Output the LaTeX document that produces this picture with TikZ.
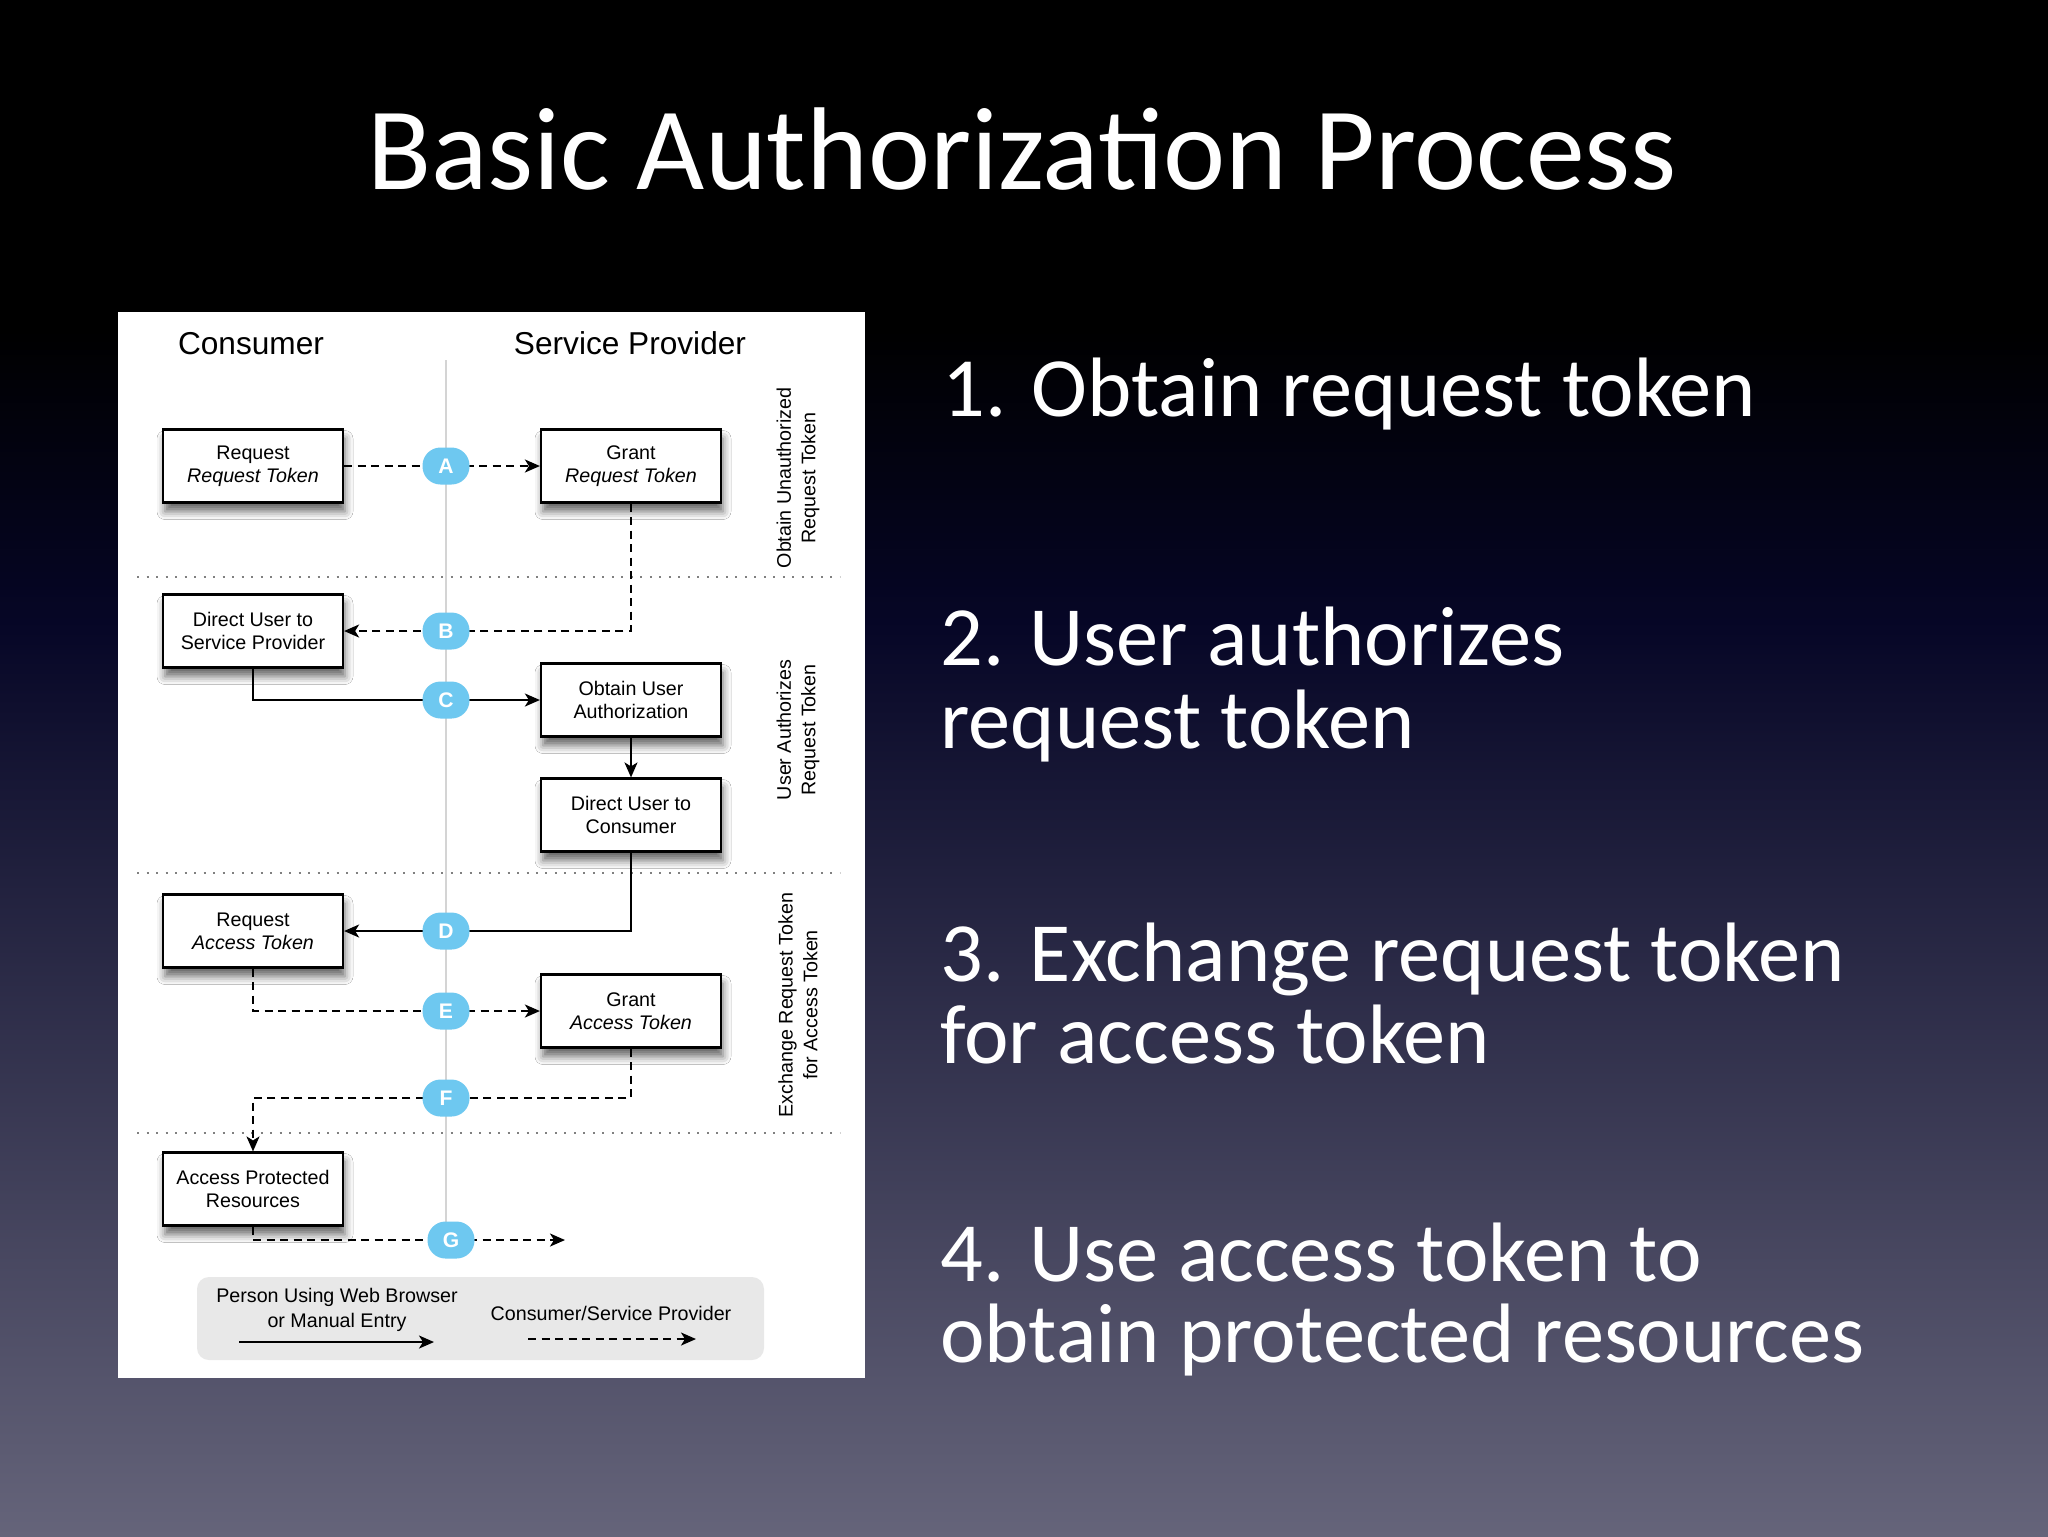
\documentclass[tikz,border=0pt]{standalone}
\usepackage{fontspec}
\setmainfont{Liberation Sans}
\newfontfamily\slidefont{Carlito}
\usetikzlibrary{arrows.meta,shadows.blur}

\definecolor{badgeblue}{RGB}{110,200,240}
\definecolor{slidebottom}{RGB}{101,100,122}
\definecolor{slidenavy}{RGB}{6,6,38}
\definecolor{legendgray}{RGB}{232,232,232}
\definecolor{lanegray}{RGB}{212,212,212}

\begin{document}
\begin{tikzpicture}[x=0.1mm,y=-0.1mm,
  >={Stealth[length=1.5mm,width=1.3mm,inset=0.4mm]},
  flowbox/.style={draw=black,line width=0.22mm,fill=white,minimum width=18mm,
    minimum height=7.3mm,inner sep=0pt,align=center,font=\fontsize{5.6}{6.6}\selectfont,
    blur shadow={shadow xshift=0.2mm,shadow yshift=-0.9mm,shadow blur radius=0.8mm,shadow opacity=60}},
  badge/.style={fill=badgeblue,rounded corners=1.8mm,minimum width=4.7mm,minimum height=3.7mm,
    inner sep=0pt,text=white,font=\fontsize{6}{6}\selectfont\bfseries},
  flow/.style={line width=0.2mm,->},
  dflow/.style={flow,dash pattern=on 0.8mm off 0.55mm},
  sepline/.style={line width=0.25mm,gray,dash pattern=on 0.2mm off 0.75mm},
  small/.style={font=\fontsize{5.6}{7}\selectfont},
  slide/.style={anchor=base west,text=white,font=\slidefont\fontsize{24}{24}\selectfont},
]
\useasboundingbox (0,0) rectangle (2048,1536);

% slide background
\fill[black] (0,0) rectangle (2048,1536);
\shade[top color=black,bottom color=slidenavy] (0,330) rectangle (2048,621);
\shade[top color=slidenavy,bottom color=slidebottom] (0,620) rectangle (2048,1536);

\node[anchor=base,text=white,font=\slidefont\fontsize{33.5}{34}\selectfont] (title) at (1022,189) {Basic Authorization Process};

% the diagram
\fill[white] (118,312) rectangle (865,1378);

\node[anchor=base,font=\fontsize{9}{10}\selectfont] (consumer) at (251,354) {Consumer};
\node[anchor=base,font=\fontsize{9}{10}\selectfont] (provider) at (630,354) {Service Provider};

\coordinate (laneTop) at (446,360);
\coordinate (laneBot) at (446,1222);
\draw[lanegray,line width=0.2mm] (laneTop) -- (laneBot);

\foreach \yy in {577,873,1133}
  \draw[sepline] (137,\yy) -- (840,\yy);

\node[flowbox] (reqRT) at (253,466) {Request\\\textit{Request Token}};
\node[flowbox] (grantRT) at (631,466) {Grant\\\textit{Request Token}};
\node[flowbox] (dirSP) at (253,631) {Direct User to\\Service Provider};
\node[flowbox] (obtAuth) at (631,700) {Obtain User\\Authorization};
\node[flowbox] (dirCons) at (631,815) {Direct User to\\Consumer};
\node[flowbox] (reqAT) at (253,931) {Request\\\textit{Access Token}};
\node[flowbox] (grantAT) at (631,1011) {Grant\\\textit{Access Token}};
\node[flowbox] (accRes) at (253,1189) {Access Protected\\Resources};

\coordinate (fRow) at (446,1098);
\coordinate (gEnd) at (565,1240);

\draw[dflow] (reqRT) -- (grantRT);
\draw[dflow] (grantRT) |- (dirSP);
\draw[flow] (dirSP) |- (obtAuth);
\draw[flow] (obtAuth) -- (dirCons);
\draw[flow] (dirCons) |- (reqAT);
\draw[dflow] (reqAT) |- (grantAT);
\draw[dflow] (grantAT) |- (fRow) -| (accRes);
\draw[dflow] (accRes) |- (gEnd);

\node[badge] (bA) at (laneTop |- reqRT) {A};
\node[badge] (bB) at (laneTop |- dirSP) {B};
\node[badge] (bC) at (laneTop |- obtAuth) {C};
\node[badge] (bD) at (laneTop |- reqAT) {D};
\node[badge] (bE) at (laneTop |- grantAT) {E};
\node[badge] (bF) at (fRow) {F};
\node[badge] (bG) at (451,1240) {G};

\node[small,rotate=90,align=center] (phaseOne) at (798,478) {Obtain Unauthorized\\Request Token};
\node[small,rotate=90,align=center] (phaseTwo) at (798,730) {User Authorizes\\Request Token};
\node[small,rotate=90,align=center] (phaseThree) at (798,1005) {Exchange Request Token\\for Access Token};

% legend
\node[fill=legendgray,rounded corners=1.2mm,minimum width=56.7mm,minimum height=8.3mm] (legend) at (480.5,1318.5) {};
\node[small,align=center] (legPerson) at (337,1310) {Person Using Web Browser\\or Manual Entry};
\node[small] (legCSP) at (611,1313) {Consumer/Service Provider};
\coordinate (pFrom) at (239,1342);
\coordinate (pTo) at (434,1342);
\coordinate (cFrom) at (528,1339);
\coordinate (cTo) at (696,1339);
\draw[flow] (pFrom) -- (pTo);
\draw[dflow] (cFrom) -- (cTo);

% steps
\node[slide] (stepOne) at (930,416) {1. Obtain request token};
\node[slide] (stepTwoA) at (928,665) {2. User authorizes};
\node[slide] (stepTwoB) at (928,748) {request token};
\node[slide] (stepThreeA) at (928,981) {3. Exchange request token};
\node[slide] (stepThreeB) at (928,1063) {for access token};
\node[slide] (stepFourA) at (928,1281) {4. Use access token to};
\node[slide] (stepFourB) at (928,1362) {obtain protected resources};
\end{tikzpicture}
\end{document}
